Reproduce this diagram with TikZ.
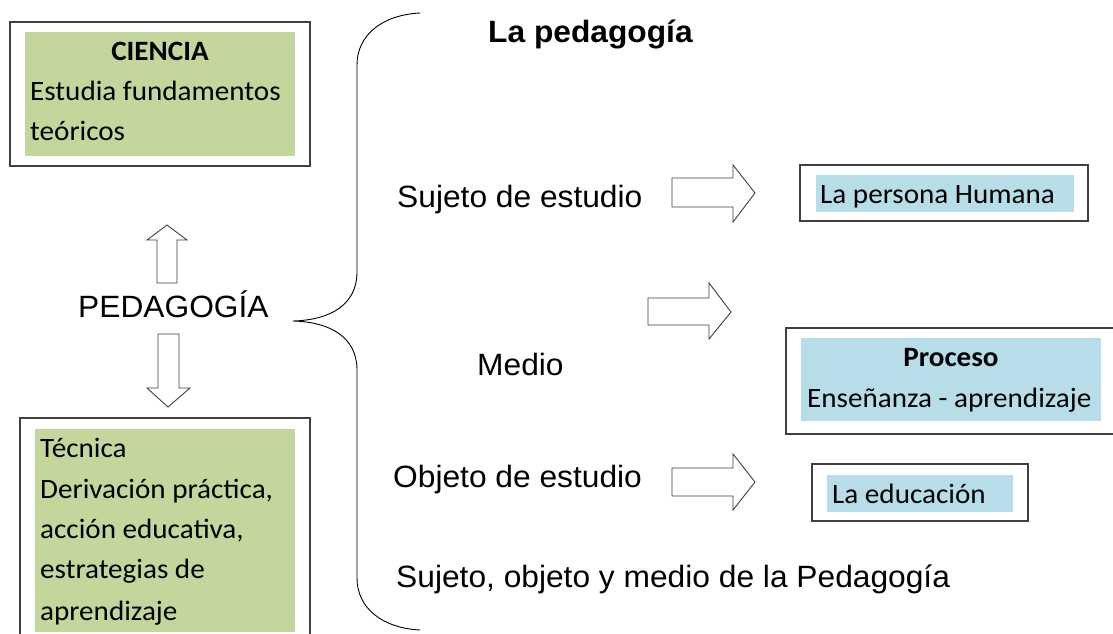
\documentclass[tikz,border=0pt]{standalone}
\usepackage{fontspec}
\setmainfont{Carlito}[FakeStretch=1.04]
\newfontfamily\arialf{Liberation Sans}[FakeStretch=1.03]
\definecolor{boxgreen}{HTML}{C3D69B}
\definecolor{boxblue}{HTML}{B7DDE8}
\definecolor{framegray}{HTML}{3F3F3F}
\tikzset{
  cal/.style={inner sep=0pt, anchor=base west, font=\fontsize{28}{33}\selectfont},
  calb/.style={inner sep=0pt, anchor=base, font=\fontsize{28}{33}\selectfont\bfseries},
  ar/.style={inner sep=0pt, anchor=base west, font=\arialf\fontsize{30.8}{36}\selectfont},
  arb/.style={inner sep=0pt, anchor=base west, font=\arialf\fontsize{30.8}{36}\selectfont\bfseries},
  frame/.style={draw=framegray, line width=1.2pt},
  blockarrow/.style={draw=framegray, line width=0.9pt, line join=miter, fill=white},
  bracepath/.style={draw=black, line width=0.9pt}
}
\begin{document}
\begin{tikzpicture}[x=1pt,y=-1pt]
\useasboundingbox (0,0) rectangle (1113,634);

% top-left box
\draw[frame] (10,22) rectangle (310,166);
\fill[boxgreen] (25,32) rectangle (295,156);
\node[calb] (cien) at (160,60) {CIENCIA};
\node[cal] (cien1) at (30,100) {Estudia fundamentos};
\node[cal] (cien2) at (30,140) {teóricos};

% bottom-left box
\draw[frame] (20,645) -- (20,418) -- (310,418) -- (310,645);
\fill[boxgreen] (35,429) rectangle (295,632);
\node[cal] (tec1) at (40,457) {Técnica};
\node[cal] (tec2) at (40,498) {Derivación práctica,};
\node[cal] (tec3) at (40,538) {acción educativa,};
\node[cal] (tec4) at (40,578) {estrategias de};
\node[cal] (tec5) at (40,620) {aprendizaje};

% PEDAGOGIA and vertical arrows
\node[ar] (ped) at (78,317) {PEDAGOGÍA};
\draw[blockarrow] (167,225) -- (187,240) -- (177,240) -- (177,283) -- (157,283) -- (157,240) -- (147,240) -- cycle;
\draw[blockarrow] (158,334) -- (179,334) -- (179,388) -- (190,388) -- (168,407) -- (147,388) -- (158,388) -- cycle;

% brace
\draw[bracepath] (420,13) .. controls (382,15) and (357,35) .. (357,65)
  -- (357,272) .. controls (357,305) and (330,320) .. (293,321)
  .. controls (330,322) and (357,337) .. (357,370)
  -- (357,578) .. controls (357,608) and (382,628) .. (420,630);

% texts right of brace
\node[arb] (tit) at (488,43) {La pedagogía};
\node[ar] (suj) at (397,207) {Sujeto de estudio};
\node[ar] (med) at (477,375) {Medio};
\node[ar] (obj) at (393,487) {Objeto de estudio};
\node[ar] (sum) at (396,587) {Sujeto, objeto y medio de la Pedagogía};

% right block arrows
\draw[blockarrow] (672,178) -- (733,178) -- (733,165) -- (755,193) -- (733,222) -- (733,207) -- (672,207) -- cycle;
\draw[blockarrow] (648,298) -- (709,298) -- (709,283) -- (731,312) -- (709,339) -- (709,325) -- (648,325) -- cycle;
\draw[blockarrow] (672,468) -- (733,468) -- (733,454) -- (755,482) -- (733,510) -- (733,496) -- (672,496) -- cycle;

% right boxes
\draw[frame] (800,165) rectangle (1088,221);
\fill[boxblue] (816,175) rectangle (1074,212);
\node[cal] (per) at (820,203) {La persona Humana};

\draw[frame] (1120,328) -- (786,328) -- (786,434) -- (1120,434);
\fill[boxblue] (801,338) rectangle (1101,421);
\node[calb] (proc) at (951,366) {Proceso};
\node[cal] (ens) at (807,407) {Enseñanza - aprendizaje};

\draw[frame] (812,464) rectangle (1028,521);
\fill[boxblue] (827,475) rectangle (1013,512);
\node[cal] (edu) at (832,503) {La educación};
\end{tikzpicture}
\end{document}
